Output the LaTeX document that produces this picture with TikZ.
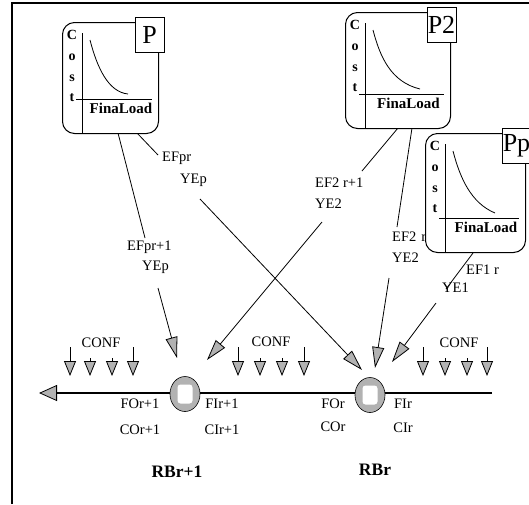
\documentclass[tikz,border=0pt]{standalone}
\usepackage{fontspec}
\setmainfont{Liberation Serif}
\usetikzlibrary{arrows.meta,shapes.geometric}
% x y w h label name
\newcommand\costbox[6]{%
  \node[cbox, minimum width=#3pt, minimum height=#4pt, anchor=north west] (#6) at (#1,#2) {};
  \begin{scope}[shift={(#1,#2)}]
    \draw[thinline] (20,11) -- (20,#4);
    \draw[thinline] (14,#4-34) -- (#3-6,#4-34);
    \draw[thinline] (28,18) .. controls (35,45) and (46,70) .. (#3-30,#4-39);
    \node[costl] at (10,13) {C};
    \node[costl] at (10,35) {o};
    \node[costl] at (10,56) {s};
    \node[costl] at (10,76) {t};
    \node[fl] at (#3/2+11,#4-25) {FinaLoad};
    \node[sq] (#6-sq) at (#3-8.5,12.5) {#5};
  \end{scope}}
\begin{document}
\begin{tikzpicture}[x=1pt,y=-1pt,
  every node/.style={inner sep=0pt},
  lbl/.style={font=\fontsize{14.5}{16}\selectfont, anchor=west},
  ctr/.style={font=\fontsize{14.5}{16}\selectfont},
  rbl/.style={font=\bfseries\fontsize{17.5}{20}\selectfont},
  costl/.style={font=\bfseries\fontsize{14}{15}\selectfont},
  fl/.style={font=\bfseries\fontsize{15}{16}\selectfont},
  sq/.style={draw, fill=white, line width=0.9pt, minimum width=29pt, minimum height=35pt, font=\fontsize{26}{26}\selectfont},
  cbox/.style={draw, fill=white, rounded corners=12pt, line width=1pt},
  thinline/.style={line width=0.8pt},
  conn/.style={line width=0.8pt},
  bigtip/.style={conn, -{Triangle[length=21pt,width=12pt,fill=gray!60]}},
  conftip/.style={line width=0.8pt, -{Triangle[length=15pt,width=12pt,fill=gray!60]}},
  rbnode/.style={ellipse, draw, line width=0.6pt, fill=gray!60, minimum width=30pt, minimum height=35pt},
  rbin/.style={fill=white, rounded corners=3pt, minimum width=15pt, minimum height=19pt}]
\useasboundingbox (0,0) rectangle (529,504);
% frame
\draw[line width=2pt] (12,504) -- (12,3) -- (529,3);

% main line
\coordinate (mlR) at (492,393);
\coordinate (mlL) at (39,393);
\draw[line width=1.6pt, -{Triangle[length=18pt,width=16pt,fill=gray!60,line width=0.8pt]}] (mlR) -- (mlL);
\node[rbnode] (rb1) at (185,394) {};
\node[rbin] at (rb1) {};
\node[rbnode] (rb) at (370,395) {};
\node[rbin] at (rb) {};

% flow labels
\node[ctr] (fo1) at (140,404) {FOr+1};
\node[ctr] (co1) at (140,430) {COr+1};
\node[ctr] (fi1) at (222,404) {FIr+1};
\node[ctr] (ci1) at (222,430) {CIr+1};
\node[ctr] (fo) at (333,404) {FOr};
\node[ctr] (co) at (333,427) {COr};
\node[ctr] (fi) at (403,404) {FIr};
\node[ctr] (ci) at (403,428) {CIr};
\node[rbl] (rbl1) at (177,472) {RBr+1};
\node[rbl] (rbl0) at (375,470) {RBr};

% CONF arrows
\foreach \x/\s in {70/347,90/358,112/358,133/347,238/347,260/358,282/358,304/347,423/347,445/358,467/358,487/347}{
  \coordinate (cf\x a) at (\x,\s);
  \coordinate (cf\x b) at (\x,376);
  \draw[conftip] (cf\x a) -- (cf\x b);
}
\node[ctr] (conf1) at (101,343) {CONF};
\node[ctr] (conf2) at (271,342) {CONF};
\node[ctr] (conf3) at (459,343) {CONF};

% tips
\coordinate (t1) at (177,358);
\coordinate (t2) at (207,360);
\coordinate (t3) at (362,370);
\coordinate (t4) at (375,368);
\coordinate (t5) at (392,362);

% L1: P -> RBr+1
\coordinate (l1a) at (118,133);
\coordinate (l1b) at (145,238);
\coordinate (l1c) at (158,288);
\draw[conn] (l1a) -- (l1b);
\draw[bigtip] (l1c) -- (t1);
\node[lbl] (efp1) at (127,247) {EFpr+1};
\node[lbl] (yep1) at (142,267) {YEp};

% L2: P -> RBr
\coordinate (l2a) at (137,133);
\coordinate (l2b) at (158,155);
\coordinate (l2c) at (200,199);
\draw[conn] (l2a) -- (l2b);
\draw[bigtip] (l2c) -- (t3);
\node[lbl] (efp) at (162,158) {EFpr};
\node[lbl] (yep) at (180,180) {YEp};

% L3: P2 -> RBr+1
\coordinate (l3a) at (398,128);
\coordinate (l3b) at (362,171);
\coordinate (l3c) at (322,222);
\draw[conn] (l3a) -- (l3b);
\draw[bigtip] (l3c) -- (t2);
\node[lbl] (ef2a) at (315,183) {EF2 r+1};
\node[lbl] (ye2a) at (315,204) {YE2};

% L4: P2 -> RBr
\coordinate (l4a) at (412,128);
\coordinate (l4b) at (397,227);
\coordinate (l4c) at (389,278);
\draw[conn] (l4a) -- (l4b);
\draw[bigtip] (l4c) -- (t4);
\node[lbl] (ef2b) at (392,237) {EF2\hspace{5pt}r};
\node[lbl] (ye2b) at (392,258) {YE2};

% L5: Pp -> RBr
\coordinate (l5a) at (473,253);
\coordinate (l5b) at (446,289);
\coordinate (l5c) at (436,303);
\draw[conn] (l5a) -- (l5b);
\draw[bigtip] (l5c) -- (t5);
\node[lbl] (ef1) at (466,270) {EF1 r};
\node[lbl] (ye1) at (442,288) {YE1};

% boxes
\costbox{62}{22}{96}{111}{P}{bp}
\costbox{345}{12}{105}{116}{P2}{bp2}
\costbox{425}{133}{100}{119}{Pp}{bpp}
\end{tikzpicture}
\end{document}
